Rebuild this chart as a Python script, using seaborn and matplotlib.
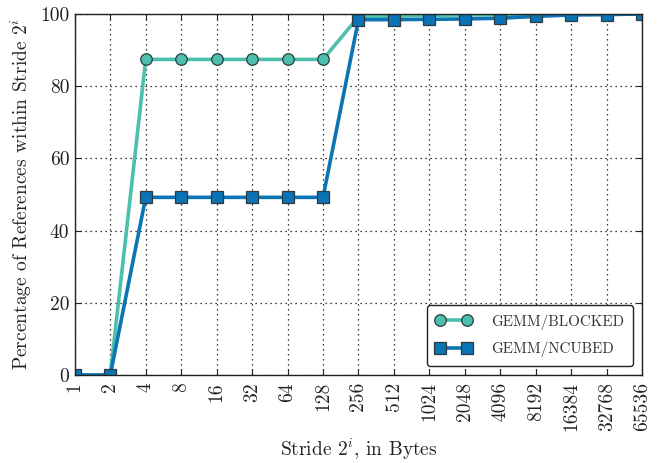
import matplotlib
matplotlib.use("Agg")
import matplotlib.pyplot as plt
import seaborn as sns
import pandas as pd
import numpy as np

# Stride sizes (bytes) and cumulative percentage of references within each stride
strides = [1, 2, 4, 8, 16, 32, 64, 128, 256, 512, 1024, 2048, 4096, 8192,
           16384, 32768, 65536]
blocked = [0.0, 0.0, 87.4, 87.4, 87.4, 87.4, 87.4, 87.4, 99.2, 99.4, 99.6,
           99.7, 99.8, 99.9, 100.0, 100.0, 100.0]
ncubed = [0.0, 0.0, 49.2, 49.2, 49.2, 49.2, 49.2, 49.2, 98.4, 98.4, 98.5,
          98.6, 98.8, 99.3, 99.7, 99.8, 100.0]
series_names = ["GEMM/BLOCKED", "GEMM/NCUBED"]

sns.set_style("ticks")
plt.rcParams.update({
    "font.family": "serif",
    "font.serif": ["cmr10"],
    "mathtext.fontset": "cm",
    "axes.formatter.use_mathtext": True,
    "axes.unicode_minus": False,
})

teal = "#4dbfad"
blue = "#0a74b4"
edge = "#2a3a40"

pos = np.arange(len(strides))
df = pd.DataFrame({"pos": pos, "blocked": blocked, "ncubed": ncubed})

fig = plt.figure(figsize=(6.62, 4.63), dpi=100)
ax = fig.add_axes([0.113, 0.19, 0.857, 0.78])

sns.lineplot(data=df, x="pos", y="blocked", ax=ax, color=teal, linewidth=2.6,
             marker="o", markersize=8.3, markeredgecolor=edge,
             markeredgewidth=0.9, markerfacecolor=teal, label=series_names[0])
sns.lineplot(data=df, x="pos", y="ncubed", ax=ax, color=blue, linewidth=2.6,
             marker="s", markersize=8.3, markeredgecolor=edge,
             markeredgewidth=0.9, markerfacecolor=blue, label=series_names[1])

ax.set_xlim(0, len(strides) - 1)
ax.set_ylim(0, 100)
ax.set_xticks(pos)
ax.set_xticklabels([str(s) for s in strides], rotation=90, fontsize=14)
ax.set_yticks([0, 20, 40, 60, 80, 100])
ax.set_yticklabels(["0", "20", "40", "60", "80", "100"], fontsize=14)
ax.tick_params(direction="in", length=4, width=0.8, top=True, right=True,
               colors="#222222", pad=4)
ax.tick_params(axis="x", pad=5)

ax.grid(True, linestyle=(0, (1, 3)), color="black", linewidth=0.9)
for sp in ax.spines.values():
    sp.set_visible(True)
    sp.set_color("#222222")
    sp.set_linewidth(1.0)

ax.set_xlabel("Stride $2^i$, in Bytes", fontsize=14, color="#222222", labelpad=4)
ax.set_ylabel("Percentage of References within Stride $2^i$", fontsize=14,
              color="#222222", labelpad=4)

leg = ax.legend(loc="lower right", fontsize=10.8, frameon=True, fancybox=True,
                edgecolor="#222222", framealpha=1, handlelength=2.4,
                borderpad=0.6, labelspacing=0.8, handletextpad=1.3,
                borderaxespad=0.6, numpoints=2)
leg.get_frame().set_linewidth(1.0)
for t in leg.get_texts():
    t.set_color("#333333")

fig.savefig("out.png", dpi=100)
